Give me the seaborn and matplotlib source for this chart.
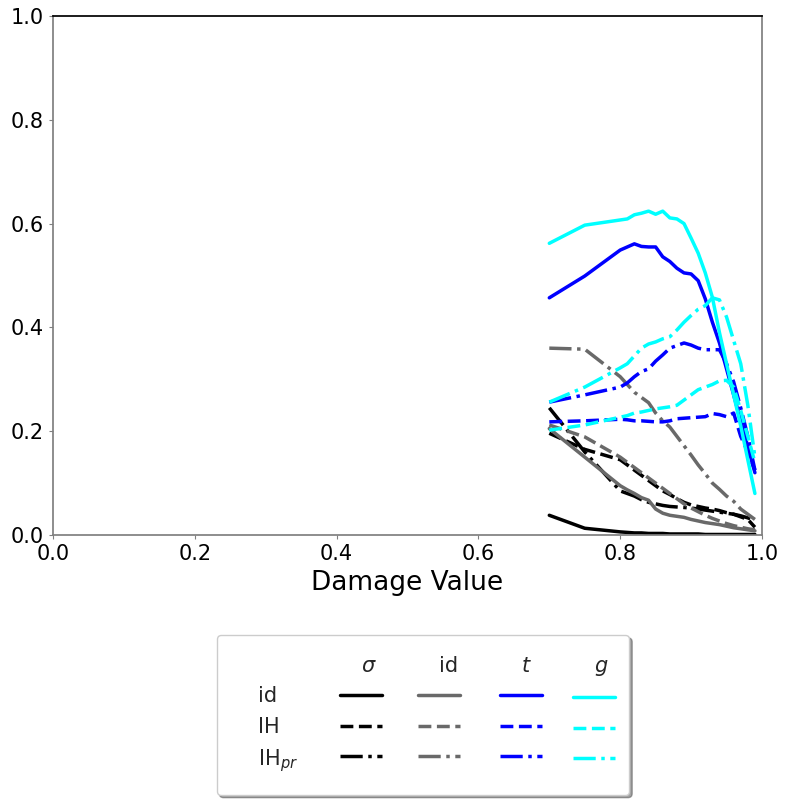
import pandas as pd
import matplotlib.pyplot as plt
import seaborn as sns
from matplotlib.lines import Line2D

# === Style ===
sns.set_theme(style="white", rc={"axes.edgecolor": "gray", "xtick.color": "gray",
                                 "ytick.color": "gray", "xtick.bottom": True,
                                 "ytick.left": True})
plt.rcParams["font.family"] = ["DejaVu Sans"]

# === Data ===
damage = [0.70, 0.75, 0.80, 0.81, 0.82, 0.83, 0.84, 0.85, 0.86, 0.87, 0.88,
          0.89, 0.90, 0.91, 0.92, 0.93, 0.94, 0.95, 0.96, 0.97, 0.98, 0.99]

sigma_id = [0.038, 0.013, 0.006, 0.005, 0.004, 0.004, 0.003, 0.003, 0.003, 0.002, 0.002,
            0.002, 0.002, 0.002, 0.001, 0.001, 0.001, 0.001, 0.001, 0.001, 0.001, 0.001]
sigma_ih = [0.196, 0.165, 0.145, 0.135, 0.125, 0.115, 0.105, 0.095, 0.085, 0.078, 0.070,
            0.063, 0.058, 0.055, 0.052, 0.050, 0.047, 0.043, 0.040, 0.035, 0.030, 0.015]
sigma_ihpr = [0.245, 0.160, 0.085, 0.080, 0.075, 0.068, 0.063, 0.060, 0.057, 0.055, 0.054,
              0.053, 0.052, 0.050, 0.048, 0.046, 0.044, 0.042, 0.040, 0.037, 0.033, 0.028]

id_id = [0.205, 0.150, 0.095, 0.087, 0.080, 0.072, 0.067, 0.050, 0.042, 0.038, 0.036,
         0.034, 0.030, 0.027, 0.024, 0.022, 0.020, 0.017, 0.014, 0.012, 0.010, 0.008]
id_ih = [0.212, 0.189, 0.150, 0.140, 0.130, 0.120, 0.110, 0.100, 0.090, 0.080, 0.070,
         0.060, 0.052, 0.045, 0.038, 0.032, 0.027, 0.022, 0.018, 0.015, 0.012, 0.010]
id_ihpr = [0.360, 0.358, 0.305, 0.290, 0.275, 0.265, 0.255, 0.235, 0.220, 0.208, 0.190,
           0.172, 0.154, 0.135, 0.118, 0.100, 0.088, 0.075, 0.065, 0.050, 0.040, 0.030]

t_id = [0.457, 0.499, 0.549, 0.555, 0.561, 0.556, 0.555, 0.555, 0.536, 0.527, 0.514,
        0.505, 0.503, 0.490, 0.455, 0.410, 0.370, 0.320, 0.270, 0.220, 0.170, 0.120]
t_ih = [0.218, 0.220, 0.223, 0.222, 0.220, 0.220, 0.219, 0.218, 0.218, 0.220, 0.224,
        0.225, 0.226, 0.227, 0.228, 0.234, 0.232, 0.228, 0.235, 0.190, 0.160, 0.125]
t_ihpr = [0.256, 0.270, 0.285, 0.293, 0.305, 0.315, 0.320, 0.335, 0.347, 0.360, 0.365,
          0.370, 0.366, 0.360, 0.357, 0.357, 0.357, 0.330, 0.295, 0.245, 0.190, 0.125]

g_id = [0.562, 0.597, 0.607, 0.609, 0.617, 0.620, 0.624, 0.618, 0.624, 0.611, 0.609,
        0.600, 0.572, 0.543, 0.505, 0.458, 0.390, 0.330, 0.270, 0.210, 0.145, 0.080]
g_ih = [0.202, 0.212, 0.227, 0.230, 0.235, 0.237, 0.240, 0.243, 0.245, 0.247, 0.250,
        0.260, 0.270, 0.280, 0.285, 0.290, 0.297, 0.298, 0.285, 0.240, 0.190, 0.140]
g_ihpr = [0.256, 0.285, 0.322, 0.330, 0.345, 0.360, 0.368, 0.372, 0.378, 0.382, 0.395,
          0.410, 0.423, 0.435, 0.442, 0.457, 0.453, 0.420, 0.375, 0.330, 0.250, 0.150]

metrics = ["sigma", "id", "t", "g"]
metric_labels = [r"$\sigma$", "id", r"$t$", r"$g$"]
methods = ["id", "IH", "IHpr"]
method_labels = ["id", "IH", r"IH$_{pr}$"]

series = {
    ("sigma", "id"): sigma_id, ("sigma", "IH"): sigma_ih, ("sigma", "IHpr"): sigma_ihpr,
    ("id", "id"): id_id, ("id", "IH"): id_ih, ("id", "IHpr"): id_ihpr,
    ("t", "id"): t_id, ("t", "IH"): t_ih, ("t", "IHpr"): t_ihpr,
    ("g", "id"): g_id, ("g", "IH"): g_ih, ("g", "IHpr"): g_ihpr,
}

rows = []
for (metric, method), values in series.items():
    for x, y in zip(damage, values):
        rows.append({"damage": x, "value": y, "metric": metric, "method": method})
df = pd.DataFrame(rows)

palette = {"sigma": "black", "id": "dimgray", "t": "blue", "g": "cyan"}
dash_map = {"id": "", "IH": (3.7, 1.6), "IHpr": (6.4, 1.6, 1, 1.6)}

# === Plot ===
fig = plt.figure(figsize=(7.88, 8.02), dpi=100)
ax = fig.add_axes([53 / 788, 1 - 535 / 802, 709 / 788, 519 / 802])

sns.lineplot(data=df, x="damage", y="value", hue="metric", style="method",
             hue_order=metrics, style_order=methods, palette=palette,
             dashes=dash_map, linewidth=2.5, legend=False, ax=ax)

ax.set_xlim(0, 1)
ax.set_ylim(0, 1)
ax.set_xlabel("Damage Value", fontsize=19, color="black")
ax.set_ylabel("")
ax.tick_params(axis="both", labelsize=15, labelcolor="black", length=3, width=0.8)
ax.spines["top"].set_color("black")

# === Table-like legend ===
blank = Line2D([], [], color="none")
handles, labels = [], []
handles += [blank] * 4
labels += [""] + method_labels
for metric, mlabel in zip(metrics, metric_labels):
    handles.append(blank)
    labels.append(mlabel)
    for method in methods:
        handles.append(Line2D([], [], color=palette[metric], lw=2.5,
                              dashes=dash_map[method] if dash_map[method] else (None, None)))
        labels.append("")

fig.legend(handles, labels, ncol=5, loc="center", bbox_to_anchor=(423 / 788, 1 - 715 / 802),
           fontsize=15, handletextpad=-1.0, shadow=True, borderpad=1.0)

fig.savefig("out.png", dpi=100)
